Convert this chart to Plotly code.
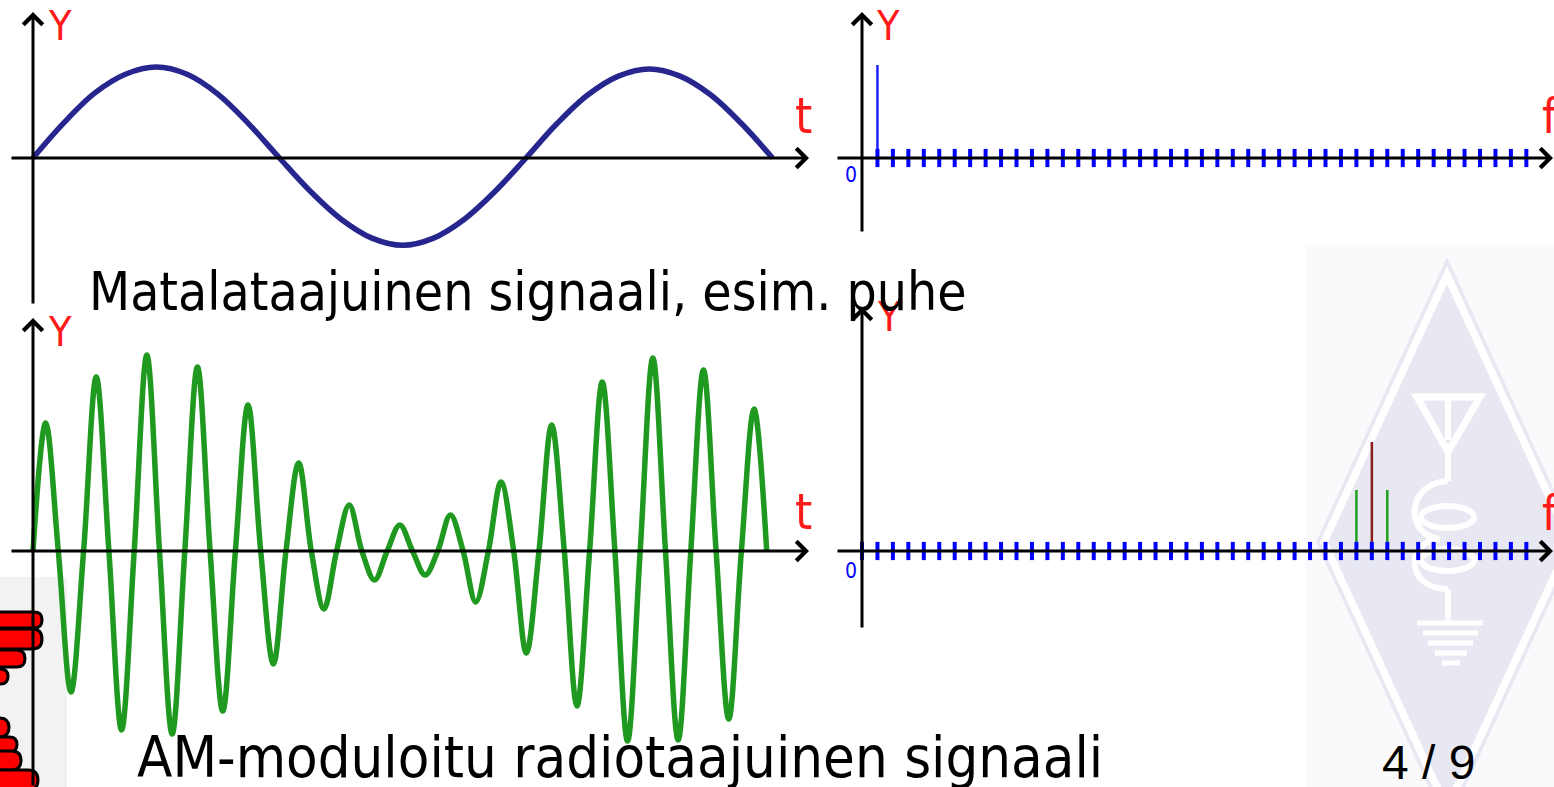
import plotly.graph_objects as go

W, H = 1554, 787

# ---------------- data ----------------
# Panel 1: low-frequency signal (time in periods, relative amplitude)
SINE_T = [0, 0.0625, 0.125, 0.1875, 0.25, 0.3125, 0.375, 0.4375, 0.5,
          0.5625, 0.625, 0.6875, 0.75, 0.8125, 0.875, 0.9375, 1.0,
          1.0625, 1.125, 1.1875, 1.25, 1.3125, 1.375, 1.4375, 1.5]
SINE_Y = [0, 0.39, 0.72, 0.93, 1.01, 0.93, 0.71, 0.38, 0,
          -0.37, -0.68, -0.89, -0.97, -0.89, -0.68, -0.37, 0,
          0.38, 0.70, 0.91, 0.99, 0.91, 0.70, 0.38, 0]

# Panel 3: AM-modulated carrier (time in carrier cycles, amplitude)
AM_T = [0, 0.25, 0.5, 0.75, 1, 1.25, 1.5, 1.75, 2, 2.25, 2.5, 2.75, 3, 3.25,
        3.5, 3.75, 4, 4.25, 4.5, 4.75, 5, 5.25, 5.5, 5.75, 6, 6.25, 6.5, 6.75,
        7, 7.25, 7.5, 7.75, 8, 8.25, 8.5, 8.75, 9, 9.25, 9.5, 9.75, 10, 10.25,
        10.5, 10.75, 11, 11.25, 11.5, 11.75, 12, 12.25, 12.5, 12.75, 13, 13.25,
        13.5, 13.75, 14, 14.25, 14.5]
AM_Y = [0, 1.28, 0, -1.41, 0, 1.74, 0, -1.79, 0, 1.96, 0, -1.83, 0, 1.84,
        0, -1.60, 0, 1.46, 0, -1.13, 0, 0.88, 0, -0.58, 0, 0.46, 0, -0.29,
        0, 0.26, 0, -0.24, 0, 0.36, 0, -0.51, 0, 0.69, 0, -1.02, 0, 1.26,
        0, -1.55, 0, 1.69, 0, -1.90, 0, 1.93, 0, -1.89, 0, 1.81, 0, -1.68,
        0, 1.42, 0]

# Panels 2 and 4: spectra (frequency bin, amplitude)
FREQ_TICKS_TOP = list(range(1, 44))
FREQ_TICKS_BOTTOM = list(range(0, 44))
SPEC_LF_F = [1]
SPEC_LF_A = [0.93]
SPEC_LF_C = ["#1f1fff"]
SPEC_AM_F = [32, 33, 34]
SPEC_AM_A = [0.61, 1.09, 0.61]
SPEC_AM_C = ["#1f9f1f", "#8a1c1c", "#1f9f1f"]

CAPTION_TOP = "Matalataajuinen signaali, esim. puhe"
CAPTION_BOTTOM = "AM-moduloitu radiotaajuinen signaali"
PAGE = "4 / 9"

# ---------------- layout helpers ----------------
# panel: origin in px, px per data unit, domain box in px (x0, x1, y0, y1)
PANELS = {
    1: dict(ox=33, oy=158, sx=493, sy=90, box=(0, 830, 0, 300)),
    2: dict(ox=862, oy=158, sx=15.45, sy=100, box=(830, 1554, 0, 250)),
    3: dict(ox=33, oy=551, sx=50.6, sy=100, box=(0, 830, 300, 787)),
    4: dict(ox=862, oy=551, sx=15.45, sy=100, box=(830, 1554, 290, 640)),
}


def dx(n, px):
    p = PANELS[n]
    return (px - p["ox"]) / p["sx"]


def dy(n, py):
    p = PANELS[n]
    return (p["oy"] - py) / p["sy"]


def paper(px, py):
    return px / W, 1 - py / H


fig = go.Figure()

# ---------------- traces ----------------
fig.add_trace(go.Scatter(x=SINE_T, y=SINE_Y, mode="lines",
                         line=dict(color="#26268e", width=5.5, shape="spline"),
                         xaxis="x", yaxis="y", hoverinfo="skip"))

for f, a, c in zip(SPEC_LF_F, SPEC_LF_A, SPEC_LF_C):
    fig.add_trace(go.Scatter(x=[f, f], y=[0, a], mode="lines",
                             line=dict(color=c, width=2.5),
                             xaxis="x2", yaxis="y2", hoverinfo="skip"))
fig.add_trace(go.Scatter(x=FREQ_TICKS_TOP, y=[0] * len(FREQ_TICKS_TOP), mode="markers",
                         marker=dict(symbol="line-ns", size=13,
                                     line=dict(color="#0000ff", width=4)),
                         xaxis="x2", yaxis="y2", hoverinfo="skip"))

fig.add_trace(go.Scatter(x=AM_T, y=AM_Y, mode="lines",
                         line=dict(color="#1f991f", width=5.5, shape="spline"),
                         xaxis="x3", yaxis="y3", hoverinfo="skip"))

for f, a, c in zip(SPEC_AM_F, SPEC_AM_A, SPEC_AM_C):
    fig.add_trace(go.Scatter(x=[f, f], y=[0, a], mode="lines",
                             line=dict(color=c, width=2.5),
                             xaxis="x4", yaxis="y4", hoverinfo="skip"))
fig.add_trace(go.Scatter(x=FREQ_TICKS_BOTTOM, y=[0] * len(FREQ_TICKS_BOTTOM), mode="markers",
                         marker=dict(symbol="line-ns", size=13,
                                     line=dict(color="#0000ff", width=4)),
                         xaxis="x4", yaxis="y4", hoverinfo="skip"))

# ---------------- axes ----------------
layout_axes = {}
for n, p in PANELS.items():
    x0, x1, y0, y1 = p["box"]
    sfx = "" if n == 1 else str(n)
    layout_axes["xaxis" + sfx] = dict(domain=[x0 / W, x1 / W],
                                      range=[dx(n, x0), dx(n, x1)],
                                      visible=False, fixedrange=True,
                                      anchor="y" + sfx)
    layout_axes["yaxis" + sfx] = dict(domain=[1 - y1 / H, 1 - y0 / H],
                                      range=[dy(n, y1), dy(n, y0)],
                                      visible=False, fixedrange=True,
                                      anchor="x" + sfx)

# ---------------- arrows (coordinate axes) ----------------
annotations = []


def arrow(n, tail, tip):
    sfx = "" if n == 1 else str(n)
    annotations.append(dict(
        x=dx(n, tip[0]), y=dy(n, tip[1]), ax=dx(n, tail[0]), ay=dy(n, tail[1]),
        xref="x" + sfx, yref="y" + sfx, axref="x" + sfx, ayref="y" + sfx,
        text="", showarrow=True, arrowhead=4, arrowsize=1.25, arrowwidth=3,
        arrowcolor="#000000", standoff=0))


arrow(1, (33, 305), (33, 12))
arrow(1, (10, 158), (809, 158))
arrow(2, (862, 233), (862, 12))
arrow(2, (836, 158), (1553, 158))
arrow(3, (33, 787), (33, 318))
arrow(3, (10, 551), (809, 551))
arrow(4, (862, 629), (862, 307))
arrow(4, (836, 551), (1553, 551))

COND = "DejaVu Sans Condensed, DejaVu Sans, sans-serif"


def label(text, px, py, size, color, xanchor="center", family=COND):
    x, y = paper(px, py)
    annotations.append(dict(x=x, y=y, xref="paper", yref="paper", text=text,
                            showarrow=False, xanchor=xanchor, yanchor="middle",
                            font=dict(family=family, size=size, color=color)))


RED = "#ff1a1a"
label("Y", 60, 26, 41, RED)
label("t", 803, 116, 49, RED)
label("Y", 888, 26, 41, RED)
label("f", 1540, 116, 48, RED, xanchor="left")
label("0", 851, 175, 21, "#0000ff")
label("Y", 60, 332, 41, RED)
label("t", 803, 512, 49, RED)
label("Y", 889, 317, 41, RED)
label("f", 1540, 513, 48, RED, xanchor="left")
label("0", 851, 571, 21, "#0000ff")

label(CAPTION_TOP, 87, 291.7, 53, "#000000", xanchor="left")
label(CAPTION_BOTTOM, 135, 757, 57.5, "#000000", xanchor="left")
label(PAGE, 1428.5, 762, 48, "#000000", family="Liberation Sans, Arial, sans-serif")

# ---------------- decorative shapes (slide background) ----------------
shapes = []


def ppath(points, close=True):
    s = ""
    for i, (px, py) in enumerate(points):
        x, y = paper(px, py)
        s += ("M" if i == 0 else "L") + f"{x:.5f},{y:.5f} "
    return s + ("Z" if close else "")


def prect(x0, y0, x1, y1, fill):
    a, b = paper(x0, y1)
    c, d = paper(x1, y0)
    shapes.append(dict(type="rect", xref="paper", yref="paper", x0=a, y0=b, x1=c, y1=d,
                       fillcolor=fill, line=dict(width=0), layer="below"))


def diamond(cx, cy, hw, hh, fill):
    shapes.append(dict(type="path", xref="paper", yref="paper",
                       path=ppath([(cx, cy - hh), (cx + hw, cy), (cx, cy + hh), (cx - hw, cy)]),
                       fillcolor=fill, line=dict(width=0), layer="below"))


def wline(pts, width=6, close=False):
    shapes.append(dict(type="path", xref="paper", yref="paper", path=ppath(pts, close),
                       line=dict(color="#ffffff", width=width), layer="below"))


def wellipse(x0, y0, x1, y1, width=6):
    a, b = paper(x0, y1)
    c, d = paper(x1, y0)
    shapes.append(dict(type="circle", xref="paper", yref="paper", x0=a, y0=b, x1=c, y1=d,
                       line=dict(color="#ffffff", width=width), layer="below"))


def wcurve(p0, c1, c2, p1, width=6):
    pts = [paper(*p) for p in (p0, c1, c2, p1)]
    path = "M{:.5f},{:.5f} C{:.5f},{:.5f} {:.5f},{:.5f} {:.5f},{:.5f}".format(
        *pts[0], *pts[1], *pts[2], *pts[3])
    shapes.append(dict(type="path", xref="paper", yref="paper", path=path,
                       line=dict(color="#ffffff", width=width), layer="below"))


# faint background panel on the right
prect(1305, 245, 1554, 787, "#fafafc")
LAV = "#e8e8f3"
diamond(1447, 542, 131, 285, LAV)
diamond(1447, 542, 127, 276, "#ffffff")
diamond(1447, 542, 119, 258, LAV)
# antenna, coil and ground symbol
wline([(1417, 397), (1480, 397), (1448, 452)], width=7, close=True)
wline([(1448, 397), (1448, 440)], width=6)
wline([(1448, 452), (1448, 481)], width=6)
wcurve((1448, 481), (1405, 483), (1405, 536), (1440, 539))
wcurve((1440, 539), (1405, 541), (1405, 589), (1448, 589))
wellipse(1421, 506, 1474, 528)
wellipse(1421, 549, 1474, 571)
wline([(1448, 589), (1448, 623)], width=6)
for y_, xa, xb in [(623, 1417, 1483), (633, 1423, 1478), (643, 1428, 1473),
                   (653, 1435, 1467), (663, 1442, 1460)]:
    wline([(xa, y_), (xb, y_)], width=5)

# partial red logo bottom-left
prect(0, 577, 67, 787, "#f2f2f2")
for (yt, yb, xr) in [(612, 628, 42), (629, 649, 42), (650, 667, 25), (669, 684, 8),
                     (718, 737, 9), (737, 752, 17), (751, 770, 21), (770, 790, 38)]:
    r = (yb - yt) / 2
    pts = [paper(-5, yt), paper(xr - r, yt), paper(xr, yt), paper(xr, yt + r),
           paper(xr, yb), paper(xr - r, yb), paper(-5, yb)]
    path = ("M{:.5f},{:.5f} L{:.5f},{:.5f} Q{:.5f},{:.5f} {:.5f},{:.5f} "
            "Q{:.5f},{:.5f} {:.5f},{:.5f} L{:.5f},{:.5f} Z").format(
        *pts[0], *pts[1], *pts[2], *pts[3], *pts[4], *pts[5], *pts[6])
    shapes.append(dict(type="path", xref="paper", yref="paper", path=path,
                       fillcolor="#ff0000", line=dict(color="#000000", width=3),
                       layer="below"))

fig.update_layout(
    width=W, height=H, autosize=False,
    margin=dict(l=0, r=0, t=0, b=0),
    paper_bgcolor="#ffffff", plot_bgcolor="rgba(0,0,0,0)",
    showlegend=False,
    annotations=annotations, shapes=shapes,
    **layout_axes,
)

fig.write_html("out.html", config={"displayModeBar": False},
               post_script="document.body.style.margin='0';document.body.style.overflow='hidden';")
